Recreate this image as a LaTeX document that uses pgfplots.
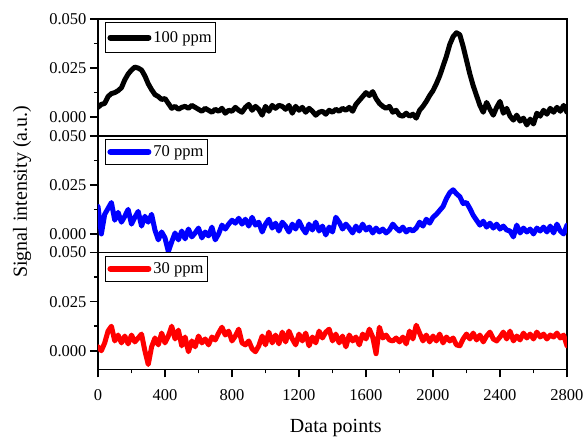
\documentclass[border=0pt]{standalone}
\usepackage{fontspec}
\setmainfont{Liberation Serif}
\usepackage{pgfplots}
\pgfplotsset{compat=1.18}

\pgfplotsset{
  panel/.style={
    width=469pt, height=116.8pt, scale only axis,
    xmin=0, xmax=2800, ymin=-0.0095, ymax=0.05,
    ytick={0,0.025,0.05}, minor ytick={0.0125,0.0375},
    scaled y ticks=false,
    yticklabel style={/pgf/number format/.cd, fixed, fixed zerofill, precision=3, assume math mode=true},
    xticklabel style={yshift=-9pt, /pgf/number format/.cd, assume math mode=true, set thousands separator={}},
    tick label style={font=\fontsize{16.5}{18}\selectfont},
    tick align=outside, ytick pos=left, xtick pos=left,
    major tick length=8pt, minor tick length=4pt,
    axis line style={line width=1.5pt},
    every tick/.style={black, line width=1.5pt},
    legend style={at={(axis description cs:0.015,0.97)}, anchor=north west,
      draw=black, line width=0.8pt, inner xsep=2pt, inner ysep=4pt,
      font=\fontsize{16.5}{18}\selectfont},
    legend cell align=left,
    legend image code/.code={\draw[#1, line width=6pt, line cap=round] (2pt,0pt) -- (40pt,0pt);},
    every axis plot/.append style={line width=5pt, line join=round, line cap=round},
  }
}

\begin{document}
\begin{tikzpicture}
\path (0pt,0pt) rectangle (587pt,-434pt);

% 100 ppm
\begin{axis}[panel, at={(98pt,-19pt)}, anchor=north west, xtick=\empty,
  legend style={inner ysep=7pt, at={(axis description cs:0.015,0.975)}}]
\addplot[black] coordinates {
(0,0.0050) (20,0.0065) (40,0.0070) (60,0.0105) (80,0.0120) (100,0.0125) (120,0.0135) (140,0.0150) (160,0.0190) (180,0.0220)
(200,0.0240) (220,0.0255) (240,0.0250) (260,0.0240) (280,0.0210) (300,0.0170) (320,0.0140) (340,0.0115) (360,0.0105) (380,0.0090)
(400,0.0095) (420,0.0070) (440,0.0045) (460,0.0055) (480,0.0040) (500,0.0050) (520,0.0055) (540,0.0045) (560,0.0060) (580,0.0050)
(600,0.0040) (620,0.0030) (640,0.0045) (660,0.0035) (680,0.0025) (700,0.0040) (720,0.0030) (740,0.0045) (760,0.0020) (780,0.0035)
(800,0.0030) (820,0.0050) (840,0.0035) (860,0.0025) (880,0.0050) (900,0.0065) (920,0.0035) (940,0.0055) (960,0.0040) (980,0.0010)
(1000,0.0055) (1020,0.0030) (1040,0.0060) (1060,0.0045) (1080,0.0060) (1100,0.0055) (1120,0.0040) (1140,0.0060) (1160,0.0020) (1180,0.0055)
(1200,0.0035) (1220,0.0050) (1240,0.0025) (1260,0.0045) (1280,0.0030) (1300,0.0010) (1320,0.0025) (1340,0.0030) (1360,0.0015) (1380,0.0035)
(1400,0.0025) (1420,0.0040) (1440,0.0030) (1460,0.0045) (1480,0.0035) (1500,0.0050) (1520,0.0030) (1540,0.0065) (1560,0.0085) (1580,0.0105)
(1600,0.0125) (1620,0.0110) (1640,0.0130) (1660,0.0095) (1680,0.0070) (1700,0.0055) (1720,0.0045) (1740,0.0055) (1760,0.0025) (1780,0.0035)
(1800,0.0010) (1820,0.0005) (1840,0.0020) (1860,0.0005) (1880,0.0015) (1900,-0.0005) (1920,0.0035) (1940,0.0055) (1960,0.0080) (1980,0.0110)
(2000,0.0135) (2020,0.0170) (2040,0.0210) (2060,0.0260) (2080,0.0310) (2100,0.0370) (2120,0.0410) (2140,0.0430) (2160,0.0420) (2180,0.0360)
(2200,0.0290) (2220,0.0220) (2240,0.0160) (2260,0.0110) (2280,0.0060) (2300,0.0025) (2320,0.0075) (2340,0.0040) (2360,0.0010) (2380,0.0050)
(2400,0.0080) (2420,0.0020) (2440,0.0045) (2460,0.0005) (2480,-0.0015) (2500,0.0010) (2520,-0.0020) (2540,-0.0005) (2560,-0.0040) (2580,-0.0010)
(2600,-0.0035) (2620,0.0020) (2640,0.0005) (2660,0.0035) (2680,0.0015) (2700,0.0045) (2720,0.0025) (2740,0.0050) (2760,0.0030) (2780,0.0060)
(2800,0.0025)
};
\addlegendentry{100 ppm}
\end{axis}

% 70 ppm
\begin{axis}[panel, at={(98pt,-135.8pt)}, anchor=north west, xtick=\empty,
  ylabel={Signal intensity (a.u.)},
  ylabel style={at={(axis description cs:-0.162,0.52)}, anchor=center, font=\fontsize{20}{24}\selectfont}]
\addplot[blue] coordinates {
(0,0.0140) (20,0.0000) (40,0.0100) (60,0.0130) (80,0.0160) (100,0.0070) (120,0.0110) (140,0.0060) (160,0.0090) (180,0.0125)
(200,0.0050) (220,0.0085) (240,0.0115) (260,0.0040) (280,0.0090) (300,0.0060) (320,0.0100) (340,0.0020) (360,-0.0030) (380,0.0010)
(400,-0.0020) (420,-0.0090) (440,-0.0040) (460,0.0005) (480,-0.0030) (500,0.0015) (520,-0.0025) (540,0.0025) (560,-0.0015) (580,0.0005)
(600,0.0030) (620,-0.0020) (640,0.0010) (660,-0.0010) (680,0.0035) (700,-0.0030) (720,0.0000) (740,0.0045) (760,0.0025) (780,0.0050)
(800,0.0070) (820,0.0055) (840,0.0080) (860,0.0050) (880,0.0075) (900,0.0040) (920,0.0085) (940,0.0045) (960,0.0060) (980,0.0010)
(1000,0.0050) (1020,0.0075) (1040,0.0030) (1060,0.0055) (1080,0.0015) (1100,0.0060) (1120,0.0040) (1140,0.0010) (1160,0.0050) (1180,0.0025)
(1200,0.0065) (1220,0.0030) (1240,0.0005) (1260,0.0050) (1280,0.0020) (1300,0.0060) (1320,0.0015) (1340,0.0040) (1360,-0.0005) (1380,0.0035)
(1400,0.0010) (1420,0.0085) (1440,0.0060) (1460,0.0025) (1480,0.0050) (1500,0.0030) (1520,0.0005) (1540,0.0040) (1560,0.0015) (1580,0.0050)
(1600,0.0020) (1620,0.0035) (1640,0.0005) (1660,0.0030) (1680,0.0010) (1700,0.0025) (1720,0.0005) (1740,0.0020) (1760,0.0050) (1780,0.0030)
(1800,0.0015) (1820,0.0035) (1840,0.0010) (1860,0.0025) (1880,0.0015) (1900,0.0030) (1920,0.0060) (1940,0.0040) (1960,0.0075) (1980,0.0055)
(2000,0.0085) (2020,0.0100) (2040,0.0120) (2060,0.0140) (2080,0.0180) (2100,0.0210) (2120,0.0225) (2140,0.0205) (2160,0.0190) (2180,0.0155)
(2200,0.0160) (2220,0.0130) (2240,0.0095) (2260,0.0070) (2280,0.0045) (2300,0.0065) (2320,0.0035) (2340,0.0055) (2360,0.0030) (2380,0.0050)
(2400,0.0025) (2420,0.0040) (2440,0.0020) (2460,0.0015) (2480,-0.0015) (2500,0.0045) (2520,0.0005) (2540,0.0030) (2560,0.0010) (2580,0.0025)
(2600,0.0000) (2620,0.0030) (2640,0.0015) (2660,0.0035) (2680,0.0010) (2700,0.0040) (2720,0.0005) (2740,0.0050) (2760,0.0015) (2780,0.0000)
(2800,0.0045)
};
\addlegendentry{70 ppm}
\end{axis}

% 30 ppm
\begin{axis}[panel, at={(98pt,-252.6pt)}, anchor=north west,
  xtick={0,400,...,2800}, minor xtick={200,600,...,2600},
  xlabel={Data points},
  xlabel style={at={(axis description cs:0.507,-0.537)}, anchor=base, font=\fontsize{20}{24}\selectfont}]
\addplot[red] coordinates {
(0,0.0020) (20,0.0000) (40,0.0040) (60,0.0100) (80,0.0125) (100,0.0050) (120,0.0080) (140,0.0040) (160,0.0075) (180,0.0035)
(200,0.0080) (220,0.0045) (240,0.0065) (260,0.0085) (280,0.0000) (300,-0.0070) (320,0.0020) (340,0.0065) (360,0.0030) (380,0.0090)
(400,0.0040) (420,0.0075) (440,0.0125) (460,0.0060) (480,0.0105) (500,0.0025) (520,0.0070) (540,-0.0005) (560,0.0050) (580,0.0020)
(600,0.0075) (620,0.0040) (640,0.0060) (660,0.0030) (680,0.0070) (700,0.0055) (720,0.0090) (740,0.0120) (760,0.0080) (780,0.0100)
(800,0.0050) (820,0.0075) (840,0.0110) (860,0.0040) (880,0.0030) (900,0.0050) (920,0.0010) (940,-0.0005) (960,0.0025) (980,0.0075)
(1000,0.0030) (1020,0.0095) (1040,0.0040) (1060,0.0080) (1080,0.0035) (1100,0.0095) (1120,0.0045) (1140,0.0100) (1160,0.0060) (1180,0.0030)
(1200,0.0085) (1220,0.0050) (1240,0.0090) (1260,0.0025) (1280,0.0070) (1300,0.0040) (1320,0.0100) (1340,0.0065) (1360,0.0095) (1380,0.0110)
(1400,0.0050) (1420,0.0085) (1440,0.0040) (1460,0.0075) (1480,0.0020) (1500,0.0080) (1520,0.0050) (1540,0.0070) (1560,0.0030) (1580,0.0085)
(1600,0.0060) (1620,0.0110) (1640,0.0070) (1660,-0.0015) (1680,0.0120) (1700,0.0065) (1720,0.0080) (1740,0.0055) (1760,0.0050) (1780,0.0065)
(1800,0.0045) (1820,0.0070) (1840,0.0035) (1860,0.0100) (1880,0.0060) (1900,0.0130) (1920,0.0090) (1940,0.0050) (1960,0.0080) (1980,0.0045)
(2000,0.0075) (2020,0.0050) (2040,0.0085) (2060,0.0040) (2080,0.0070) (2100,0.0050) (2120,0.0065) (2140,0.0030) (2160,0.0025) (2180,0.0060)
(2200,0.0085) (2220,0.0060) (2240,0.0090) (2260,0.0055) (2280,0.0080) (2300,0.0045) (2320,0.0075) (2340,0.0095) (2360,0.0060) (2380,0.0050)
(2400,0.0070) (2420,0.0095) (2440,0.0060) (2460,0.0100) (2480,0.0050) (2500,0.0075) (2520,0.0055) (2540,0.0090) (2560,0.0065) (2580,0.0085)
(2600,0.0060) (2620,0.0095) (2640,0.0070) (2660,0.0085) (2680,0.0060) (2700,0.0080) (2720,0.0070) (2740,0.0090) (2760,0.0065) (2780,0.0080)
(2800,0.0025)
};
\addlegendentry{30 ppm}
\end{axis}
\end{tikzpicture}
\end{document}
